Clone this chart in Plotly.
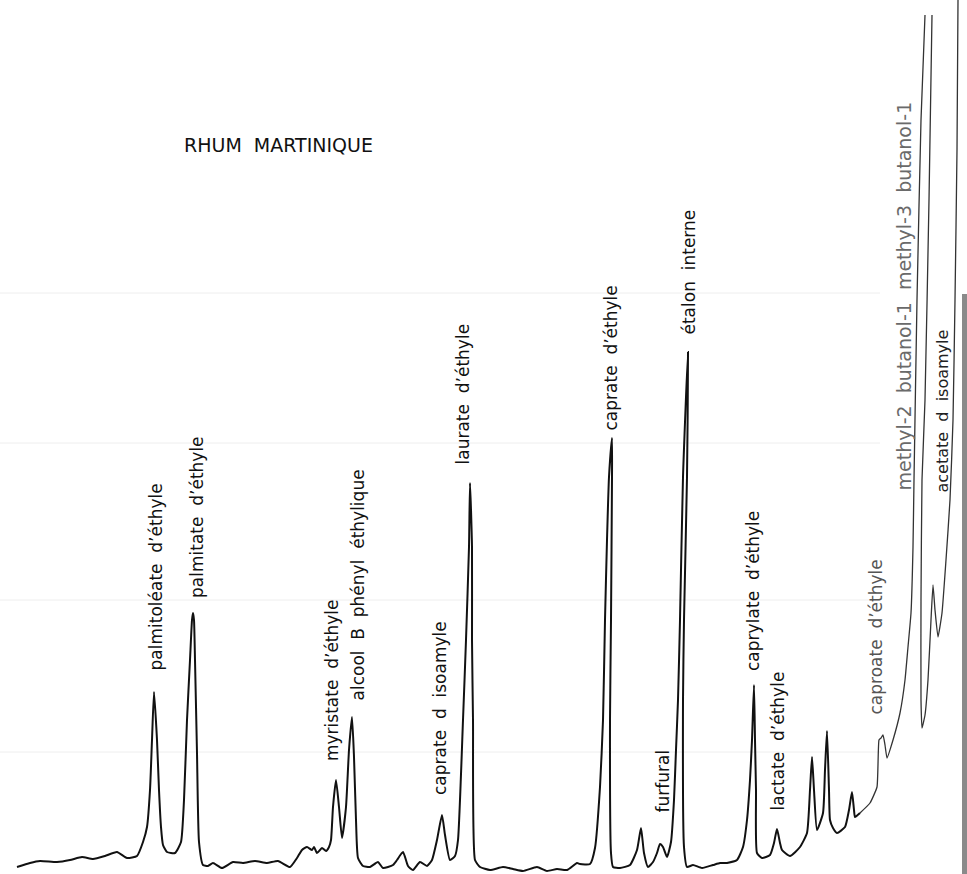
import plotly.graph_objects as go

# Chromatogram of a Martinique rum: retention position (chart units) and
# detector response (chart units above the bottom edge).
retention_main = [
    17, 30, 40, 57, 70, 82, 93, 105, 117, 127, 137, 143, 147, 150, 152, 154, 157, 159, 161, 163,
    167, 175, 181, 184, 187, 190, 192, 193, 194, 195, 197, 199, 203, 208, 213, 222, 233, 243, 255, 267,
    278, 290, 297, 302, 307, 312, 314, 317, 322, 326, 329, 331, 333, 336, 339, 342, 346, 349, 352, 354,
    356, 358, 363, 370, 378, 383, 393, 397, 403, 408, 413, 420, 427, 432, 437, 442, 445, 450, 455, 458,
    463, 466, 469, 470, 472, 472, 473, 475, 480, 490, 503, 513, 523, 537, 547, 557, 567, 577, 580, 590,
    595, 600, 603, 605, 607, 609, 612, 612, 611, 610, 611, 613, 620, 630, 637, 641, 644, 648, 653, 657,
    660, 663, 667, 671, 674, 676, 678, 680, 683, 688, 687, 684, 683, 684, 687, 693, 702, 713, 720, 727,
    737, 743, 747, 750, 752, 754, 755, 756, 757, 762, 770, 774, 777, 780, 782, 790, 800, 807, 810, 812,
    814, 817, 823, 825, 827, 829, 830, 833, 837, 845, 849, 852, 854, 855, 860,
]
response_main = [
    7, 11, 13, 12, 14, 17, 15, 18, 22, 16, 18, 32, 47, 84, 134, 182, 134, 84, 47, 29,
    22, 21, 32, 74, 154, 214, 254, 261, 254, 214, 121, 32, 9, 8, 11, 6, 12, 11, 13, 11,
    13, 7, 16, 24, 27, 24, 27, 21, 26, 23, 27, 34, 67, 94, 67, 36, 67, 124, 157, 117,
    54, 16, 8, 7, 12, 6, 9, 14, 22, 8, 4, 12, 8, 14, 34, 59, 39, 14, 18, 34,
    154, 234, 327, 391, 327, 234, 154, 14, 7, 4, 7, 5, 3, 7, 3, 5, 4, 11, 10, 10,
    26, 87, 154, 254, 334, 397, 436, 397, 254, 154, 21, 7, 6, 9, 24, 46, 21, 7, 12, 21,
    30, 27, 17, 32, 74, 124, 174, 254, 397, 522, 397, 254, 174, 27, 7, 9, 6, 9, 11, 11,
    14, 27, 54, 94, 134, 189, 134, 84, 21, 16, 19, 31, 45, 31, 24, 18, 27, 41, 84, 117,
    84, 44, 61, 104, 143, 84, 54, 46, 41, 47, 64, 82, 64, 57, 61,
]

# Early-eluting part: caproate, the off-scale amyl alcohols, isoamyl acetate
# and the solvent front (None breaks the pen line where it leaves the chart).
retention_early = [
    860, 870, 877, 879, 881, 883, 885, 887, 893, 900, 905, 908, 911, 913, 914, 917, 921, 925,
    None,
    932, 929, 925, 922, 921, 921, 922, 925, 928, 931, 933, 935, 938, 942, 946, 950, 953, 955, 957, 958,
]
response_early = [
    61, 71, 87, 134, 136, 139, 129, 116, 134, 161, 194, 227, 261, 327, 394, 574, 754, 859,
    None,
    859, 674, 474, 394, 274, 174, 146, 159, 194, 254, 289, 264, 237, 261, 314, 374, 454, 574, 724, 874,
]

# Peak names with the point where each rotated label sits (bottom of the text).
NB = "\u00a0"
peak_labels = [
    "palmitoléate d’éthyle", "palmitate d’éthyle", "myristate d’éthyle",
    "alcool B phényl éthylique", "caprate d isoamyle", "laurate d’éthyle",
    "caprate d’éthyle", "furfural", "étalon interne", "capryIate d’éthyle",
    "lactate d’éthyle", "caproate d’éthyle",
    "methyl-2 butanol-1 methyl-3 butanol-1", "acetate d isoamyle",
]
label_x = [155, 197, 332, 357, 440, 462, 610, 662, 688, 753, 777, 875, 903, 942]
label_y = [201, 274, 111, 171, 77, 407, 441, 59, 537, 201, 61, 157, 381, 379]
label_color = ["#111"] * 11 + ["#555", "#6a6a6a", "#222"]
label_size = [17] * 12 + [19, 16]

title_text = "RHUM MARTINIQUE"

fig = go.Figure()
fig.add_trace(go.Scatter(
    x=retention_main, y=response_main, mode="lines",
    line=dict(color="#111111", width=2.0, shape="spline", smoothing=0.5),
    hoverinfo="skip", showlegend=False,
))
fig.add_trace(go.Scatter(
    x=retention_early, y=response_early, mode="lines", connectgaps=False,
    line=dict(color="#333333", width=1.3, shape="spline", smoothing=0.4),
    hoverinfo="skip", showlegend=False,
))

annotations = []
for text, x, y, col, sz in zip(peak_labels, label_x, label_y, label_color, label_size):
    words = text.split(" ")
    annotations.append(dict(
        x=x, y=y, xref="x", yref="y", text=(NB + " ").join(words), showarrow=False,
        textangle=-90, xanchor="center", yanchor="bottom",
        font=dict(family="DejaVu Sans", size=sz, color=col),
    ))
annotations.append(dict(
    x=278, y=729, xref="x", yref="y", text=title_text.replace(" ", NB + " "),
    showarrow=False, xanchor="center", yanchor="middle",
    font=dict(family="DejaVu Sans", size=19, color="#111"),
))

# faint rules of the printed table showing through the paper
shapes = []
for rule_y in (581, 431, 274, 122):
    shapes.append(dict(type="line", xref="x", yref="y", x0=0, x1=880, y0=rule_y, y1=rule_y,
                       line=dict(color="#eeeeee", width=1), layer="below"))
# darkened paper edge along the right side
shapes.append(dict(type="rect", xref="x", yref="y", x0=962, x1=967, y0=0, y1=580,
                   fillcolor="#8a8a8a", line=dict(width=0), layer="below"))

fig.update_layout(
    width=967, height=874,
    margin=dict(l=0, r=0, t=0, b=0),
    paper_bgcolor="white", plot_bgcolor="white",
    xaxis=dict(range=[0, 967], visible=False, fixedrange=True),
    yaxis=dict(range=[0, 874], visible=False, fixedrange=True),
    annotations=annotations, shapes=shapes,
)

fig.write_html("out.html")
